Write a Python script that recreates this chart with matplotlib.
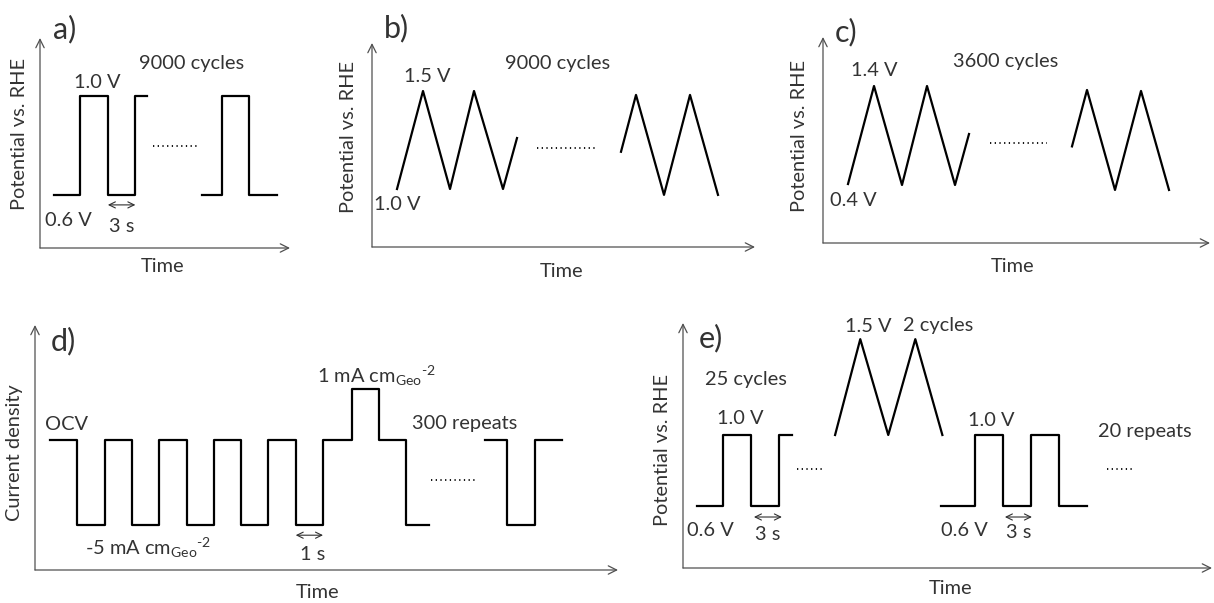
import matplotlib.pyplot as plt

plt.rcParams['font.family'] = ['Lato', 'DejaVu Sans']
plt.rcParams['mathtext.fontset'] = 'custom'
plt.rcParams['mathtext.rm'] = 'Lato'
plt.rcParams['mathtext.default'] = 'regular'

W, H = 1214, 603
TXT = '#333333'
FS = 14.4

# a) square wave 0.6 V <-> 1.0 V, 3 s steps (time in s, potential in V)
a_t1 = [1.5, 4.4, 7.4, 10.4, 11.7]
a_v1 = [0.6, 1.0, 0.6, 1.0, 1.0]
a_t2 = [17.7, 19.8, 22.8, 25.8]
a_v2 = [0.6, 1.0, 0.6, 0.6]
a_gap_t, a_gap_v = [12.3, 17.2], 0.8

# b) triangle 1.0 V <-> 1.5 V (time in a.u.)
b_t1 = [2.5, 5.1, 7.8, 10.2, 13.1, 14.5]
b_v1 = [1.0, 1.5, 1.0, 1.5, 1.0, 1.26]
b_t2 = [24.9, 26.4, 29.2, 31.8, 34.6]
b_v2 = [1.19, 1.48, 0.97, 1.48, 0.97]
b_gap_t, b_gap_v = [16.5, 22.3], 1.21

# c) triangle 0.4 V <-> 1.4 V
c_t1 = [2.5, 5.1, 7.9, 10.4, 13.2, 14.6]
c_v1 = [0.41, 1.4, 0.4, 1.4, 0.4, 0.915]
c_t2 = [24.9, 26.4, 29.2, 31.8, 34.6]
c_v2 = [0.79, 1.36, 0.35, 1.35, 0.35]
c_gap_t, c_gap_v = [16.7, 22.4], 0.82

# d) current steps, 1 s each (level in a.u.: OCV = 0, -5 mA = -1, +1 mA = 0.6)
d_t1 = [0.55, 1.55, 2.55, 3.55, 4.55, 5.55, 6.55, 7.55, 8.55, 9.55, 10.55, 11.6, 12.6, 13.6, 14.45]
d_j1 = [0, -1, 0, -1, 0, -1, 0, -1, 0, -1, 0, 0.6, 0, -1, -1]
d_t2 = [16.5, 17.3, 18.3, 19.3]
d_j2 = [0, -1, 0, 0]
d_gap_t, d_gap_j = [14.5, 16.1], -0.47

# e) 25 square cycles, 2 triangle cycles, repeated
e_t1 = [1.5, 4.3, 7.3, 10.3, 11.7]
e_v1 = [0.6, 1.0, 0.6, 1.0, 1.0]
e_tri_t = [16.3, 19.0, 22.0, 24.9, 27.8]
e_tri_v = [1.0, 1.54, 1.0, 1.54, 1.0]
e_t2 = [27.7, 31.3, 34.3, 37.3, 40.3, 43.3]
e_v2 = [0.6, 1.0, 0.6, 1.0, 0.6, 0.6]
e_gap1_t, e_gap2_t, e_gap_v = [12.2, 15.0], [45.4, 48.4], 0.81

fig = plt.figure(figsize=(W / 100, H / 100), dpi=100)


def panel(box, px_per_t, anchor1, anchor2):
    # box = left, right, top, bottom of the drawn axis lines (pixels)
    l, r, t, b = box
    ax = fig.add_axes([l / W, 1 - b / H, (r - l) / W, (b - t) / H])
    (v1, p1), (v2, p2) = anchor1, anchor2
    slope = (p1 - p2) / (v2 - v1)
    ax.set_xlim(0, (r - l) / px_per_t)
    ax.set_ylim(v1 - (b - p1) / slope, v2 + (p2 - t) / slope)
    ax.axis('off')
    for end in [(0, 1), (1, 0)]:
        ax.annotate('', xy=end, xytext=(0, 0), xycoords='axes fraction',
                    arrowprops=dict(arrowstyle='->,head_length=0.6,head_width=0.3',
                                    lw=0.9, color='#505050', shrinkA=0, shrinkB=0))
    return ax


def steps(ax, t, v):
    ax.plot(t, v, drawstyle='steps-post', color='black', lw=1.6, clip_on=False)


def zigzag(ax, t, v):
    ax.plot(t, v, color='black', lw=1.6, clip_on=False)


def gap(ax, t, v):
    ax.plot(t, [v, v], color='black', lw=1.3, linestyle=(0, (0.7, 1.9)),
            solid_capstyle='butt', clip_on=False)


def span(ax, t0, t1, v):
    ax.annotate('', xy=(t1, v), xytext=(t0, v),
                arrowprops=dict(arrowstyle='<->,head_length=0.45,head_width=0.22',
                                lw=0.8, color='#303030', shrinkA=0, shrinkB=0))


def txt(x, y, s, size=FS, **kw):
    kw.setdefault('ha', 'center')
    kw.setdefault('va', 'center')
    fig.text(x / W, 1 - y / H, s, fontsize=size, color=TXT, **kw)


CMGEO = r'cm$_{Geo}$$^{\text{-2}}$'

# ---- a)
ax = panel((40, 290, 38, 248), 9.17, (0.6, 195), (1.0, 96))
steps(ax, a_t1, a_v1)
steps(ax, a_t2, a_v2)
gap(ax, a_gap_t, a_gap_v)
span(ax, 7.4, 10.4, 0.56)
txt(65, 29, 'a)', size=22)
txt(192, 63, '9000 cycles')
txt(97, 83, '1.0 V')
txt(68, 220, '0.6 V')
txt(122, 227, '3 s')
txt(163, 267, 'Time')
txt(20, 134, 'Potential vs. RHE', rotation=90)

# ---- b)
ax = panel((372, 755, 43, 247), 10, (1.0, 189), (1.5, 91))
zigzag(ax, b_t1, b_v1)
zigzag(ax, b_t2, b_v2)
gap(ax, b_gap_t, b_gap_v)
txt(396, 28, 'b)', size=22)
txt(558, 63, '9000 cycles')
txt(427, 77, '1.5 V')
txt(397, 204, '1.0 V')
txt(562, 271, 'Time')
txt(348, 137, 'Potential vs. RHE', rotation=90)

# ---- c)
ax = panel((823, 1210, 37, 243), 10, (0.4, 185), (1.4, 86))
zigzag(ax, c_t1, c_v1)
zigzag(ax, c_t2, c_v2)
gap(ax, c_gap_t, c_gap_v)
txt(846, 32, 'c)', size=22)
txt(1006, 62, '3600 cycles')
txt(874, 71, '1.4 V')
txt(853, 200, '0.4 V')
txt(1013, 267, 'Time')
txt(800, 136, 'Potential vs. RHE', rotation=90)

# ---- d)
ax = panel((35, 618, 325, 570), 27.3, (-1, 525), (0, 440))
steps(ax, d_t1, d_j1)
steps(ax, d_t2, d_j2)
gap(ax, d_gap_t, d_gap_j)
span(ax, 9.55, 10.55, -1.12)
txt(63, 341, 'd)', size=22)
txt(66, 424, 'OCV')
txt(317, 383, '1 mA ' + CMGEO, ha='left', va='baseline')
txt(465, 424, '300 repeats')
txt(85, 555, '-5 mA ' + CMGEO, ha='left', va='baseline')
txt(313, 555, '1 s')
txt(318, 593, 'Time')
txt(15, 453, 'Current density', rotation=90)

# ---- e)
ax = panel((683, 1212, 323, 568), 9.33, (0.6, 506), (1.0, 435))
steps(ax, e_t1, e_v1)
zigzag(ax, e_tri_t, e_tri_v)
steps(ax, e_t2, e_v2)
gap(ax, e_gap1_t, e_gap_v)
gap(ax, e_gap2_t, e_gap_v)
span(ax, 7.6, 10.6, 0.538)
span(ax, 34.5, 37.4, 0.538)
txt(711, 338, 'e)', size=22)
txt(746, 380, '25 cycles')
txt(740, 418, '1.0 V')
txt(710, 530, '0.6 V')
txt(768, 535, '3 s')
txt(868, 326, '1.5 V')
txt(938, 326, '2 cycles')
txt(991, 420, '1.0 V')
txt(1145, 432, '20 repeats')
txt(964, 530, '0.6 V')
txt(1019, 533, '3 s')
txt(951, 588, 'Time')
txt(663, 450, 'Potential vs. RHE', rotation=90)

fig.savefig('out.png', dpi=100)
